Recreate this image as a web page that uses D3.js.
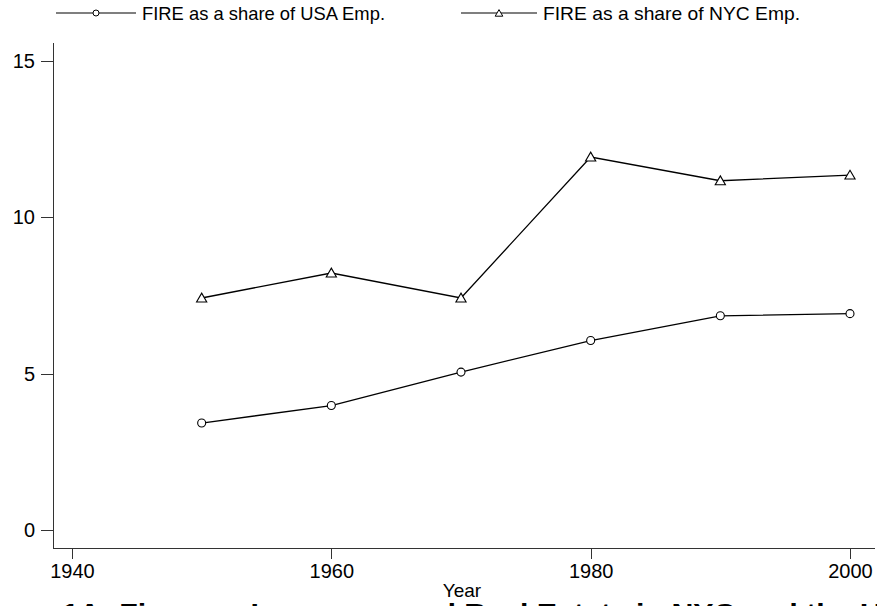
<!DOCTYPE html>
<html>
<head>
<meta charset="utf-8">
<title>FIRE employment share</title>
<style>
  body { margin: 0; background: #fff; }
  svg { display: block; font-family: "Liberation Sans", Arial, sans-serif; }
  .axis line { stroke: #333; shape-rendering: crispEdges; }
  .axis text { fill: #000; font-size: 20px; }
</style>
</head>
<body>
<svg width="877" height="606"></svg>
<script src="https://d3js.org/d3.v7.min.js"></script>
<script>
var years = [1950, 1960, 1970, 1980, 1990, 2000];
var usaShare = [3.42, 3.98, 5.05, 6.06, 6.85, 6.92];
var nycShare = [7.42, 8.22, 7.42, 11.93, 11.17, 11.35];
var xTicks = [1940, 1960, 1980, 2000];
var yTicks = [0, 5, 10, 15];
var seriesNames = ["FIRE as a share of USA Emp.", "FIRE as a share of NYC Emp."];

var svg = d3.select("svg");

var x = d3.scaleLinear().domain([1940, 2000]).range([72, 850]);
var y = d3.scaleLinear().domain([0, 15]).range([530, 61]);

var axisLeftX = 53, axisBottomY = 548;

// y axis
var gY = svg.append("g")
    .attr("class", "axis")
    .attr("transform", "translate(" + axisLeftX + ",0)")
    .call(d3.axisLeft(y).tickValues(yTicks).tickSize(12).tickPadding(6).tickFormat(d3.format("d")));
gY.select(".domain").remove();
gY.append("line").attr("x1", 0).attr("x2", 0).attr("y1", 43).attr("y2", axisBottomY);

// x axis
var gX = svg.append("g")
    .attr("class", "axis")
    .attr("transform", "translate(0," + axisBottomY + ")")
    .call(d3.axisBottom(x).tickValues(xTicks).tickSize(11).tickPadding(5).tickFormat(d3.format("d")));
gX.select(".domain").remove();
gX.append("line").attr("x1", axisLeftX).attr("x2", 875).attr("y1", 0).attr("y2", 0);

svg.append("text")
    .attr("x", 462).attr("y", 597)
    .attr("text-anchor", "middle")
    .attr("font-size", "19px")
    .text("Year");

// caption, only its top edge shows at the bottom of the picture
svg.append("text")
    .attr("x", 62).attr("y", 623)
    .attr("font-size", "28px")
    .attr("font-weight", "bold")
    .attr("textLength", 840)
    .attr("lengthAdjust", "spacingAndGlyphs")
    .text("1A: Finance, Insurance and Real Estate in NYC and the US");

var line = d3.line()
    .x(function(d, i) { return x(years[i]); })
    .y(function(d) { return y(d); });

var tri = d3.symbol().type(d3.symbolTriangle).size(45);

function drawSeries(vals, marker) {
  svg.append("path")
    .attr("d", line(vals))
    .attr("fill", "none")
    .attr("stroke", "#000")
    .attr("stroke-width", 1.3);
  vals.forEach(function(v, i) {
    if (marker === "circle") {
      svg.append("circle")
        .attr("cx", x(years[i])).attr("cy", y(v)).attr("r", 4)
        .attr("fill", "#fff").attr("stroke", "#000").attr("stroke-width", 1.1);
    } else {
      svg.append("path")
        .attr("d", tri())
        .attr("transform", "translate(" + x(years[i]) + "," + (y(v) + 1) + ")")
        .attr("fill", "#fff").attr("stroke", "#000").attr("stroke-width", 1.1);
    }
  });
}
drawSeries(usaShare, "circle");
drawSeries(nycShare, "triangle");

// legend
var legend = [
  {name: seriesNames[0], marker: "circle", x0: 56, x1: 136, tx: 142, w: 243},
  {name: seriesNames[1], marker: "triangle", x0: 461, x1: 537, tx: 543, w: 257}
];
var ly = 13;
legend.forEach(function(d) {
  svg.append("line")
    .attr("x1", d.x0).attr("x2", d.x1).attr("y1", ly).attr("y2", ly)
    .attr("stroke", "#000").attr("stroke-width", 1.1);
  var cx = (d.x0 + d.x1) / 2;
  if (d.marker === "circle") {
    svg.append("circle").attr("cx", cx).attr("cy", ly).attr("r", 3)
      .attr("fill", "#fff").attr("stroke", "#000");
  } else {
    svg.append("path").attr("d", d3.symbol().type(d3.symbolTriangle).size(25)())
      .attr("transform", "translate(" + cx + "," + (ly + 1) + ")")
      .attr("fill", "#fff").attr("stroke", "#000");
  }
  svg.append("text")
    .attr("x", d.tx).attr("y", ly + 7)
    .attr("font-size", "19px")
    .attr("textLength", d.w)
    .attr("lengthAdjust", "spacingAndGlyphs")
    .text(d.name);
});
</script>
</body>
</html>
